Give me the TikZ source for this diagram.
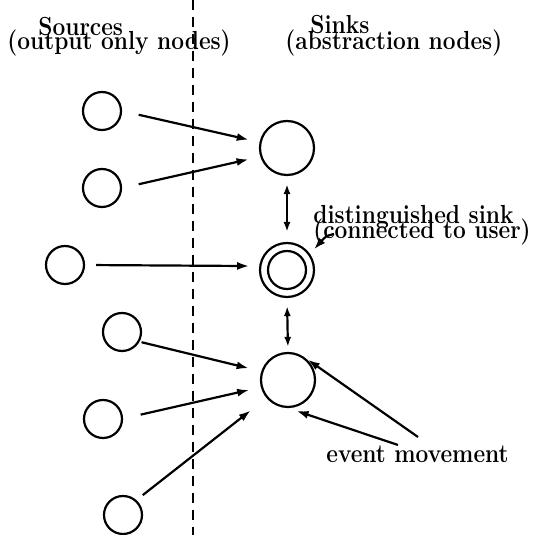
\documentclass[tikz,border=0pt]{standalone}
\usetikzlibrary{arrows.meta}
\begin{document}
\begin{tikzpicture}[x=0.5pt,y=-0.5pt,
  src/.style={circle,draw,line width=1.1pt,minimum size=19pt,inner sep=0pt},
  snk/.style={circle,draw,line width=1.1pt,minimum size=27pt,inner sep=0pt},
  snki/.style={circle,draw,line width=1.1pt,minimum size=19pt,inner sep=0pt},
  lbl/.style={anchor=base west,inner sep=0pt,yscale=1.15,transform shape,font=\fontsize{11.35}{12}\selectfont\bfseries},
  arr/.style={line width=1.1pt,-{Latex[length=6pt,width=4pt]}},
  darr/.style={line width=1.1pt,{Latex[length=5pt,width=3.5pt]}-{Latex[length=5pt,width=3.5pt]}},
  divider/.style={line width=1pt,dash pattern=on 5pt off 3.5pt},
]
\useasboundingbox (0,0) rectangle (538,535);

% divider
\coordinate (dtop) at (193,0);
\coordinate (dbot) at (193,535);
\draw[divider] (dtop) -- (dbot);

% headings
\node[lbl] (hsrc)  at (38,36)  {Sources};
\node[lbl] (hsrc2) at (7,50)   {(output only nodes)};
\node[lbl] (hsnk)  at (310,34) {Sinks};
\node[lbl] (hsnk2) at (285,50) {(abstraction nodes)};

% sources
\node[src] (S1) at (102,111) {};
\node[src] (S2) at (102,188) {};
\node[src] (S3) at (65,265)  {};
\node[src] (S4) at (122,332) {};
\node[src] (S5) at (103,419) {};
\node[src] (S6) at (123,515) {};

% sinks
\node[snk]  (K1)  at (287,148) {};
\node[snk]  (K2)  at (287,270) {};
\node[snki] (K2i) at (287,270) {};
\node[snk]  (K3)  at (288,380) {};

% source -> sink arrows
\draw[arr,shorten <=8.5pt,shorten >=5.5pt] (S1.0)   -- (K1.168);
\draw[arr,shorten <=8.5pt,shorten >=6pt]   (S2.0)   -- (K1.198);
\draw[arr,shorten <=5.5pt,shorten >=5pt]   (S3.0)   -- (K2.172);
\draw[arr,shorten <=1pt,shorten >=6.5pt]   (S4.-29) -- (K3.162);
\draw[arr,shorten <=9pt,shorten >=6pt]     (S5.1)   -- (K3.195);
\draw[arr,shorten <=4pt,shorten >=10pt]    (S6.48)  -- (K3.220);

% sink <-> sink
\draw[darr,shorten <=4pt,shorten >=5pt] (K1.south) -- (K2.north);
\draw[darr,shorten <=4pt,shorten >=2.5pt] (K2.south) -- (K3.north);

% distinguished sink label
\node[lbl] (ds1) at (313,224) {distinguished sink};
\node[lbl] (ds2) at (313,239) {(connected to user)};
\coordinate (d1) at (334,234);
\draw[arr,shorten >=3pt] (d1) .. controls (326,236) .. (K2.35);

% event movement
\node[lbl] (em) at (326,463) {event movement};
\coordinate (e1) at (418,437);
\coordinate (e2) at (398,445);
\draw[arr,shorten >=3.5pt] (e1) -- (K3.60);
\draw[arr,shorten >=4.5pt] (e2) -- (K3.270);
\end{tikzpicture}
\end{document}
